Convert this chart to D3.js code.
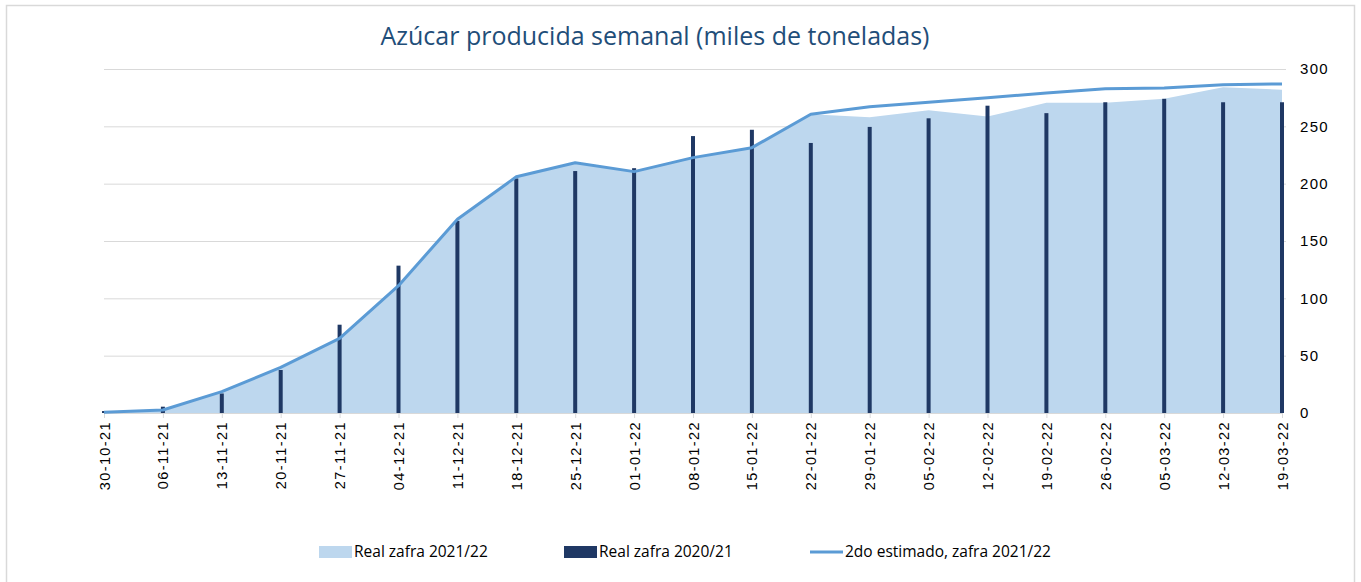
<!DOCTYPE html>
<meta charset="utf-8">
<style>
    body { margin: 0; background: #fff; }
    svg { font-family: "Open Sans", sans-serif; }
    .grid line { stroke: #d9d9d9; }
    .grid path { display: none; }
    .axis--y path, .axis--y line { display: none; }
    .axis--y text { font-size: 15px; fill: #000; letter-spacing: 1.3px; }
    .axis--x path { stroke: #d9d9d9; }
    .axis--x line { stroke: #d9d9d9; }
    .axis--x text { font-size: 14.5px; fill: #000; letter-spacing: 1.4px; }
    .legend text { font-size: 15.5px; fill: #000; }
</style>
<svg width="1361" height="582"></svg>
<script src="https://cdn.jsdelivr.net/npm/d3@7"></script>
<script>

    var weeks = ["30-10-21", "06-11-21", "13-11-21", "20-11-21", "27-11-21", "04-12-21", "11-12-21",
        "18-12-21", "25-12-21", "01-01-22", "08-01-22", "15-01-22", "22-01-22", "29-01-22",
        "05-02-22", "12-02-22", "19-02-22", "26-02-22", "05-03-22", "12-03-22", "19-03-22"];

    // Real zafra 2021/22 (area)
    var real2122 = [0.6, 2.6, 18.6, 39.8, 65, 111, 169, 206, 218, 210.5, 222.5, 231.5, 260.5, 258,
        264, 258.5, 270.5, 270.5, 274, 284, 282];

    // Real zafra 2020/21 (bars)
    var real2021 = [1.7, 5.5, 17, 37.5, 77, 128.5, 167.5, 204.5, 211, 213.5, 241.5, 247, 235.5, 249.5,
        257, 268, 261.5, 271, 274, 271, 271];

    // 2do estimado, zafra 2021/22 (line)
    var estimado = [0.6, 2.6, 18.6, 39.8, 65, 111, 169, 206, 218.3, 210.5, 222.7, 231.4, 260.5, 267,
        271, 275, 279, 282.8, 283.4, 286.3, 287];

    var yTicks = [0, 50, 100, 150, 200, 250, 300];

    var svg = d3.select("svg"),
        plotLeft = 104, plotRight = 1282, plotTop = 69, plotBottom = 413;

    var x = d3.scalePoint().domain(weeks).range([plotLeft, plotRight]),
        y = d3.scaleLinear().domain([0, 300]).range([plotBottom, plotTop]);

    // outer frame
    svg.append("rect")
        .attr("x", 6.5).attr("y", 5.5)
        .attr("width", 1348).attr("height", 590)
        .attr("fill", "none")
        .attr("stroke", "#d9d9d9")
        .attr("stroke-width", 1.5);

    svg.append("text")
        .attr("x", 655).attr("y", 45)
        .attr("text-anchor", "middle")
        .attr("font-size", "25px")
        .attr("fill", "#1f4e79")
        .text("Azúcar producida semanal (miles de toneladas)");

    svg.append("g")
        .attr("class", "grid")
        .attr("transform", "translate(" + plotLeft + ",0)")
        .call(d3.axisLeft(y).tickValues(yTicks.slice(1)).tickSize(-(plotRight - plotLeft + 4)).tickFormat(""));

    var data = weeks.map(function(w, i) {
        return {w: w, area: real2122[i], bar: real2021[i], line: estimado[i]};
    });

    svg.append("path")
        .datum(data)
        .attr("fill", "#bdd7ee")
        .attr("d", d3.area()
            .x(function(d) { return x(d.w); })
            .y0(y(0))
            .y1(function(d) { return y(d.area); }));

    svg.selectAll(".bar")
        .data(data)
        .enter().append("rect")
        .attr("class", "bar")
        .attr("x", function(d) { return x(d.w) - 2; })
        .attr("y", function(d) { return y(d.bar); })
        .attr("width", 4)
        .attr("height", function(d) { return y(0) - y(d.bar); })
        .attr("fill", "#1f3864");

    svg.append("g")
        .attr("class", "axis axis--x")
        .attr("transform", "translate(0," + plotBottom + ")")
        .call(d3.axisBottom(x).tickSizeOuter(0).tickSizeInner(5))
        .selectAll("text")
        .attr("transform", "rotate(-90)")
        .attr("text-anchor", "end")
        .attr("x", -8)
        .attr("y", 0)
        .attr("dy", "0.35em");

    svg.append("path")
        .datum(data)
        .attr("fill", "none")
        .attr("stroke", "#5b9bd5")
        .attr("stroke-width", 3)
        .attr("stroke-linejoin", "round")
        .attr("d", d3.line()
            .x(function(d) { return x(d.w); })
            .y(function(d) { return y(d.line); }));

    svg.append("g")
        .attr("class", "axis axis--y")
        .attr("transform", "translate(1300,0)")
        .call(d3.axisRight(y).tickValues(yTicks).tickSize(0).tickPadding(0));

    var legendItems = [
        {label: "Real zafra 2021/22", x: 319, type: "area"},
        {label: "Real zafra 2020/21", x: 564, type: "bar"},
        {label: "2do estimado, zafra 2021/22", x: 810, type: "line"}
    ];

    var legend = svg.append("g").attr("class", "legend")
        .selectAll("g")
        .data(legendItems)
        .enter().append("g")
        .attr("transform", function(d) { return "translate(" + d.x + ",552)"; });

    legend.filter(function(d) { return d.type !== "line"; })
        .append("rect")
        .attr("x", 0).attr("y", -6)
        .attr("width", 33).attr("height", 12)
        .attr("fill", function(d) { return d.type === "area" ? "#bdd7ee" : "#1f3864"; });

    legend.filter(function(d) { return d.type === "line"; })
        .append("line")
        .attr("x1", 0).attr("x2", 33)
        .attr("stroke", "#5b9bd5")
        .attr("stroke-width", 3);

    legend.append("text")
        .attr("x", 35)
        .attr("dy", "0.35em")
        .text(function(d) { return d.label; });
</script>
